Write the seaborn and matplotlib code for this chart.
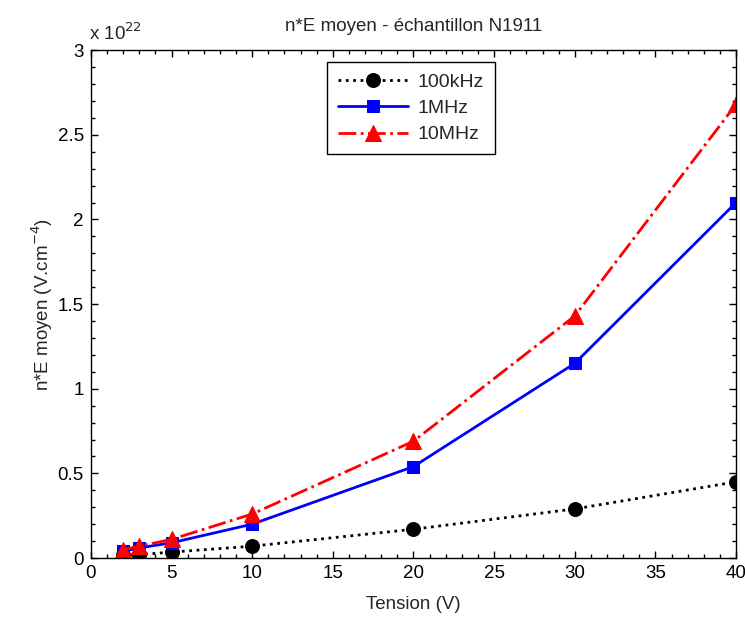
import seaborn as sns
import matplotlib.pyplot as plt
from matplotlib.ticker import MultipleLocator

# tension (V) and n*E moyen, in units of 1e22 V.cm^-4
tension = [2, 3, 5, 10, 20, 30, 40]
ne_100khz = [0.015, 0.02, 0.035, 0.07, 0.17, 0.29, 0.45]
ne_1mhz = [0.04, 0.06, 0.09, 0.20, 0.54, 1.15, 2.10]
ne_10mhz = [0.05, 0.07, 0.11, 0.26, 0.69, 1.43, 2.68]

series = [
    ("100kHz", ne_100khz, "black", ":", "o", 10),
    ("1MHz", ne_1mhz, "blue", "-", "s", 9),
    ("10MHz", ne_10mhz, "red", "-.", "^", 11),
]

sns.set_style("ticks")
plt.rcParams['font.family'] = ['Liberation Sans', 'DejaVu Sans']

fig = plt.figure(figsize=(7.45, 6.19), dpi=100)
ax = fig.add_axes([0.122, 0.0985, 0.866, 0.8205])

for name, values, color, ls, mk, ms in series:
    sns.lineplot(x=tension, y=values, ax=ax, color=color, linestyle=ls,
                 marker=mk, markersize=ms, markeredgecolor=color,
                 linewidth=2, label=name)

ax.set_xlim(0, 40)
ax.set_ylim(0, 3)
ax.xaxis.set_major_locator(MultipleLocator(5))
ax.xaxis.set_minor_locator(MultipleLocator(1))
ax.yaxis.set_major_locator(MultipleLocator(0.5))
ax.yaxis.set_minor_locator(MultipleLocator(0.1))
ax.yaxis.set_major_formatter(plt.FuncFormatter(lambda v, p: f"{v:g}"))
ax.tick_params(which='both', direction='in', top=True, right=True,
               labelsize=13.5, colors='black', width=1)
ax.tick_params(which='major', length=5, pad=5)
ax.tick_params(which='minor', length=3)
for s in ax.spines.values():
    s.set_color('black')
    s.set_linewidth(1)

ax.set_xlabel("Tension (V)", fontsize=13.5, labelpad=10)
ax.set_ylabel("n*E moyen (V.cm$^{-4}$)", fontsize=13.5, labelpad=2)
ax.set_title("n*E moyen - échantillon N1911", fontsize=13.5, pad=14)
ax.text(-0.003, 1.012, "x 10$^{22}$", transform=ax.transAxes, fontsize=13.5,
        ha='left', va='bottom')

leg = ax.legend(loc='upper center', bbox_to_anchor=(0.4965, 0.976),
                fontsize=14, frameon=True, fancybox=False, handlelength=3.6,
                borderpad=0.55, labelspacing=0.45, handletextpad=0.5,
                borderaxespad=0)
leg.get_frame().set_edgecolor('black')
leg.get_frame().set_linewidth(1)
leg.get_frame().set_alpha(1)

fig.savefig("out.png", dpi=100)
plt.close('all')
